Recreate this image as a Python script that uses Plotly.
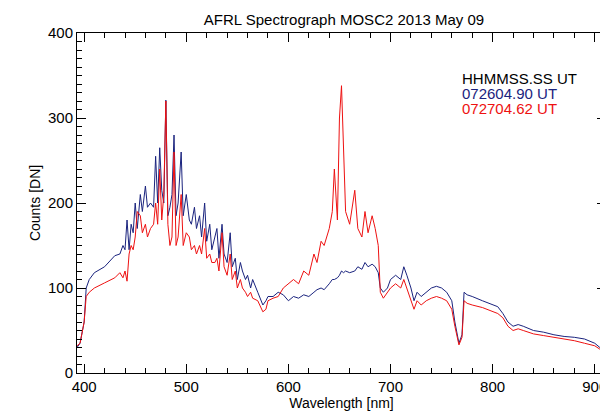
import plotly.graph_objects as go

# wavelength grid [nm] and counts
wl = [393, 396, 400, 402, 405, 410, 420, 430, 435, 438, 440, 442, 444, 446, 448, 450, 452, 455, 457, 460,
      462, 465, 468, 470, 472, 474, 476, 478, 480, 482, 484, 486, 488, 490, 492, 495, 497, 500, 503, 505,
      508, 510, 513, 515, 518, 520, 523, 525, 528, 530, 532, 535, 537, 540, 543, 545, 548, 550, 553, 555,
      558, 560, 563, 565, 570, 575, 578, 580, 585, 590, 595, 600, 605, 610, 615, 620, 625, 628, 632, 635,
      640, 643, 645, 648, 650, 652, 654, 656, 660, 665, 668, 672, 675, 678, 682, 685, 688, 690, 693, 697,
      700, 705, 710, 713, 716, 720, 723, 726, 730, 735, 740, 745, 750, 755, 760, 763, 767, 770, 772, 775,
      780, 790, 800, 805, 810, 815, 820, 825, 830, 840, 850, 860, 870, 880, 890, 900, 905, 910]

blue = [30, 35, 60, 100, 110, 118, 125, 138, 140, 150, 145, 180, 145, 175, 165, 200, 170, 210, 190, 220,
        195, 200, 195, 255, 200, 265, 215, 200, 321, 185, 195, 210, 280, 185, 200, 260, 185, 210, 180, 175,
        195, 170, 185, 160, 200, 155, 175, 145, 160, 170, 135, 175, 140, 130, 165, 125, 135, 110, 130, 120,
        110, 115, 100, 110, 95, 80, 85, 90, 90, 95, 92, 85, 90, 88, 92, 90, 95, 98, 100, 98,
        105, 110, 110, 112, 115, 120, 118, 120, 118, 120, 125, 122, 130, 125, 128, 125, 118, 100, 95, 100,
        110, 115, 110, 125, 115, 100, 85, 95, 90, 95, 100, 102, 100, 95, 85, 60, 35, 45, 95, 92,
        90, 85, 80, 78, 70, 60, 55, 57, 55, 50, 48, 45, 43, 42, 40, 35, 30, 28]

red = [32, 35, 60, 90, 95, 100, 106, 112, 118, 112, 120, 108, 140, 150, 145, 160, 190, 185, 165, 175,
       160, 170, 175, 200, 175, 240, 180, 210, 320, 175, 150, 160, 260, 150, 160, 210, 150, 165, 160, 145,
       150, 140, 150, 140, 170, 135, 140, 130, 130, 135, 120, 165, 125, 115, 140, 110, 120, 100, 110, 100,
       95, 90, 95, 88, 85, 72, 75, 85, 88, 90, 100, 105, 110, 105, 120, 115, 140, 130, 155, 150,
       170, 190, 240, 180, 300, 338, 250, 190, 175, 215, 170, 160, 190, 165, 185, 170, 150, 95, 88, 95,
       100, 105, 100, 110, 100, 85, 75, 85, 80, 85, 88, 90, 88, 85, 75, 55, 33, 42, 85, 82,
       80, 77, 72, 70, 65, 55, 50, 52, 50, 46, 44, 42, 40, 38, 35, 32, 28, 27]

fig = go.Figure()
fig.add_trace(go.Scatter(x=wl, y=blue, mode="lines", line=dict(color="#1a237e", width=1)))
fig.add_trace(go.Scatter(x=wl, y=red, mode="lines", line=dict(color="#ee1111", width=1)))

labels = [("HHMMSS.SS UT", "black", 0.897), ("072604.90 UT", "#1a237e", 0.852),
          ("072704.62 UT", "#ee1111", 0.808)]
for txt, col, yy in labels:
    fig.add_annotation(x=0.724, y=yy, xref="paper", yref="paper", xanchor="left", showarrow=False,
                       text=txt, font=dict(color=col, size=15))

axis = dict(showgrid=False, zeroline=False, showline=True, linecolor="black", linewidth=1,
            ticks="inside", ticklen=9, mirror="allticks", tickcolor="black", automargin=False,
            minor=dict(ticks="inside", ticklen=5, tickcolor="black"))
fig.update_xaxes(range=[393, 911], dtick=100, minor_dtick=20,
                 title=dict(text="Wavelength [nm]", standoff=2, font=dict(size=14)), **axis)
fig.update_yaxes(range=[0, 400], dtick=100, minor_dtick=10,
                 title=dict(text="Counts [DN]", standoff=4, font=dict(size=14)), **axis)

# page body has an 8px margin, so the figure is a bit smaller than the window
fig.update_layout(width=600, height=409, showlegend=False,
                  plot_bgcolor="white", paper_bgcolor="white",
                  margin=dict(l=69, r=2, t=25, b=44, autoexpand=False),
                  font=dict(family="Liberation Sans, Arial", size=15, color="black"),
                  title=dict(text="AFRL Spectrograph MOSC2 2013 May 09", x=0.56, y=0.985,
                             xanchor="center", font=dict(size=15)))
fig.write_html("out.html")
